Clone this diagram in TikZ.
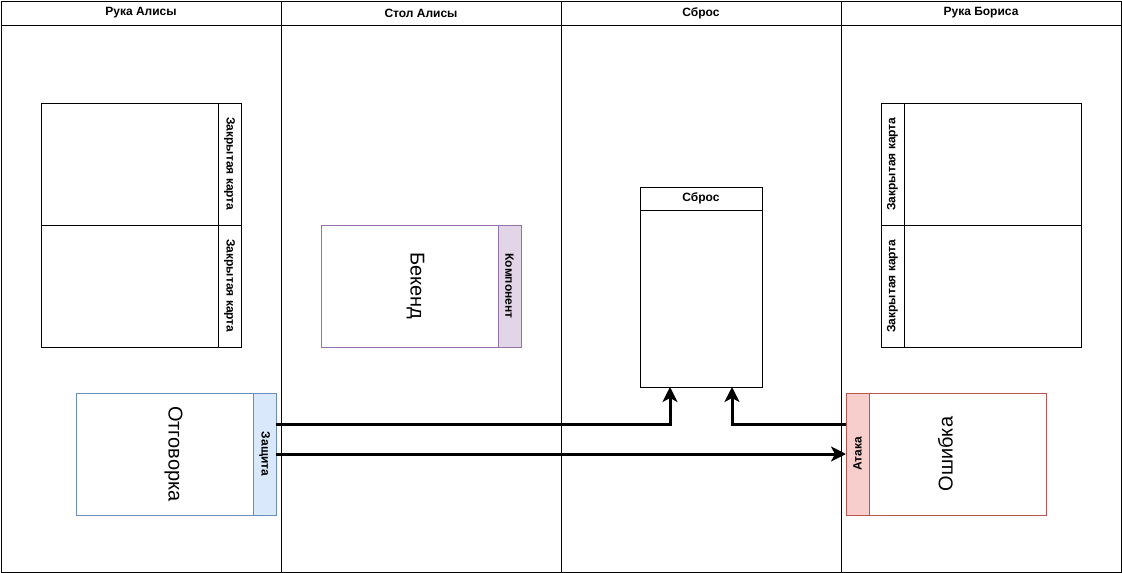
\documentclass[tikz,border=0pt]{standalone}
\usepackage{fontspec}
\setmainfont{Liberation Sans}
\usetikzlibrary{arrows.meta,positioning,calc}
\definecolor{compline}{HTML}{9673A6}
\definecolor{compfill}{HTML}{E1D5E7}
\definecolor{defline}{HTML}{6C8EBF}
\definecolor{deffill}{HTML}{DAE8FC}
\definecolor{atkline}{HTML}{B85450}
\definecolor{atkfill}{HTML}{F8CECC}

\begin{document}
\begin{tikzpicture}[x=1pt, y=-1pt,
            lane/.style={draw, line width=1pt, minimum width=280pt, minimum height=571pt, anchor=north west, outer sep=0pt},
            lanehead/.style={draw, line width=1pt, minimum width=280pt, minimum height=24pt, anchor=north west, outer sep=0pt, font=\bfseries\fontsize{12}{14}\selectfont},
            card/.style={draw, thick, minimum width=177pt, minimum height=122pt, inner sep=0pt, outer sep=0pt},
            cardtext/.style={font=\fontsize{20}{24}\selectfont},
            strip/.style={draw, thick, minimum width=23pt, minimum height=122pt, inner sep=0pt, outer sep=0pt, font=\bfseries\fontsize{12}{14}\selectfont},
            flow/.style={draw, line width=3pt, -{Stealth[length=15pt, width=15pt, inset=4pt]}}]
        \useasboundingbox (0,0) rectangle (1122,573);
        \foreach \name/\title [count=\i from 0] in {alice/Рука Алисы, table/Стол Алисы, discard/Сброс, bob/Рука Бориса} {
            \node[lane] (\name) at (1+280*\i, 1) {};
            \node[lanehead] (\name head) at (\name.north west) {\title};
        }
        \node[card] (hidden1) at (129.5,164) {};
        \node[strip, right=0pt of hidden1] (hidden1title) {\rotatebox{-90}{Закрытая карта}};
        \node[card, below=0pt of hidden1] (hidden2) {};
        \node[strip, right=0pt of hidden2] (hidden2title) {\rotatebox{-90}{Закрытая карта}};
        \node[card] (bobhidden1) at (992.5,164) {};
        \node[strip, left=0pt of bobhidden1] (bobhidden1title) {\rotatebox{90}{Закрытая карта}};
        \node[card, below=0pt of bobhidden1] (bobhidden2) {};
        \node[strip, left=0pt of bobhidden2] (bobhidden2title) {\rotatebox{90}{Закрытая карта}};
        \node[card, draw=compline, label={[cardtext, xshift=6pt]center:\rotatebox{-90}{Бекенд}}] (backend) at (409.5,286) {};
        \node[strip, draw=compline, fill=compfill, right=0pt of backend] (component) {\rotatebox{-90}{Компонент}};
        \node[card, draw=defline, label={[cardtext, xshift=9pt]center:\rotatebox{-90}{Отговорка}}] (excuse) at (164.5,454) {};
        \node[strip, draw=defline, fill=deffill, right=0pt of excuse] (defense) {\rotatebox{-90}{Защита}};
        \node[card, draw=atkline, label={[cardtext, xshift=-12pt]center:\rotatebox{90}{Ошибка}}] (bug) at (957.5,454) {};
        \node[strip, draw=atkline, fill=atkfill, left=0pt of bug] (attack) {\rotatebox{90}{Атака}};
        \node[draw, thick, minimum width=122pt, minimum height=200pt, outer sep=0pt] (pile) at (701,287) {};
        \node[draw, thick, minimum width=122pt, minimum height=23pt, outer sep=0pt, anchor=north, font=\bfseries\fontsize{12}{14}\selectfont] (pilehead) at (pile.north) {Сброс};
        \draw[flow] ([yshift=30pt]defense.east) -| ([xshift=-31pt]pile.south);
        \draw[flow] (defense.east) -- (attack.west);
        \draw[flow] ([yshift=30pt]attack.west) -| ([xshift=31pt]pile.south);
\end{tikzpicture}
\end{document}
